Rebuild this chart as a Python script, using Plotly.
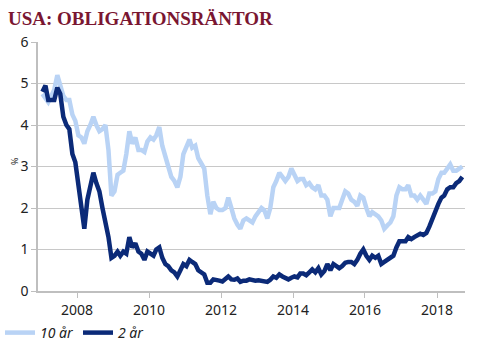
import pandas as pd
import plotly.graph_objects as go

# Monthly yields (%), Jan 2007 - Sep 2018
y10 = {
    2007: [4.75, 4.62, 4.55, 4.7, 4.85, 5.2, 4.95, 4.7, 4.6, 4.6, 4.25, 4.1],
    2008: [3.75, 3.7, 3.55, 3.85, 4.0, 4.2, 4.0, 3.85, 3.9, 4.0, 3.4, 2.3],
    2009: [2.4, 2.8, 2.85, 2.9, 3.3, 3.85, 3.55, 3.7, 3.4, 3.4, 3.35, 3.6],
    2010: [3.7, 3.65, 3.75, 3.95, 3.5, 3.2, 3.0, 2.75, 2.65, 2.5, 2.75, 3.3],
    2011: [3.45, 3.65, 3.45, 3.5, 3.2, 3.05, 2.95, 2.3, 1.85, 2.15, 2.0, 1.95],
    2012: [1.95, 2.0, 2.25, 2.0, 1.75, 1.6, 1.5, 1.7, 1.75, 1.7, 1.65, 1.8],
    2013: [1.9, 2.0, 1.95, 1.75, 2.0, 2.5, 2.65, 2.85, 2.75, 2.65, 2.75, 2.95],
    2014: [2.8, 2.65, 2.7, 2.7, 2.55, 2.6, 2.5, 2.45, 2.55, 2.3, 2.3, 2.2],
    2015: [1.8, 2.0, 2.0, 2.0, 2.2, 2.4, 2.35, 2.2, 2.15, 2.05, 2.3, 2.25],
    2016: [2.0, 1.8, 1.9, 1.85, 1.8, 1.7, 1.5, 1.58, 1.65, 1.8, 2.3, 2.5],
    2017: [2.45, 2.45, 2.55, 2.3, 2.3, 2.2, 2.3, 2.2, 2.1, 2.35, 2.35, 2.4],
    2018: [2.7, 2.85, 2.85, 2.95, 3.05, 2.9, 2.9, 2.95, 3.0],
}
y2 = {
    2007: [4.8, 4.95, 4.6, 4.6, 4.6, 4.9, 4.75, 4.2, 4.0, 3.9, 3.3, 3.1],
    2008: [2.6, 2.0, 1.5, 2.2, 2.5, 2.85, 2.6, 2.4, 2.0, 1.65, 1.3, 0.8],
    2009: [0.85, 0.95, 0.85, 0.95, 0.9, 1.3, 1.05, 1.15, 0.95, 0.9, 0.75, 0.95],
    2010: [0.9, 0.85, 1.0, 1.05, 0.8, 0.65, 0.6, 0.5, 0.45, 0.35, 0.5, 0.65],
    2011: [0.6, 0.75, 0.7, 0.65, 0.5, 0.45, 0.4, 0.2, 0.2, 0.28, 0.25, 0.25],
    2012: [0.23, 0.3, 0.35, 0.28, 0.27, 0.3, 0.22, 0.25, 0.25, 0.28, 0.26, 0.25],
    2013: [0.26, 0.25, 0.24, 0.22, 0.27, 0.35, 0.32, 0.4, 0.35, 0.3, 0.28, 0.32],
    2014: [0.35, 0.33, 0.42, 0.42, 0.38, 0.45, 0.52, 0.45, 0.55, 0.4, 0.48, 0.65],
    2015: [0.5, 0.65, 0.6, 0.55, 0.6, 0.68, 0.7, 0.7, 0.65, 0.75, 0.9, 1.0],
    2016: [0.85, 0.75, 0.85, 0.8, 0.85, 0.65, 0.7, 0.75, 0.78, 0.85, 1.05, 1.2],
    2017: [1.2, 1.2, 1.3, 1.25, 1.3, 1.35, 1.38, 1.35, 1.4, 1.55, 1.75, 1.9],
    2018: [2.1, 2.25, 2.3, 2.45, 2.5, 2.5, 2.6, 2.65, 2.75],
}
tick_years = [2008, 2010, 2012, 2014, 2016, 2018]
y_ticks = [0, 1, 2, 3, 4, 5, 6]

vals10 = [v for yr in sorted(y10) for v in y10[yr]]
vals2 = [v for yr in sorted(y2) for v in y2[yr]]
dates = pd.date_range("2007-01-01", periods=len(vals10), freq="MS") + pd.Timedelta(days=14)

LIGHT = "#B9D3F5"
DARK = "#0B2A78"
FONT = "Noto Sans"

fig = go.Figure()
fig.add_trace(go.Scatter(x=dates, y=vals10, mode="lines", name="10 år",
                         line=dict(color=LIGHT, width=4.5)))
fig.add_trace(go.Scatter(x=dates, y=vals2, mode="lines", name="2 år",
                         line=dict(color=DARK, width=4.5)))

fig.update_layout(
    width=488, height=357,
    margin=dict(l=38, r=23, t=42, b=66, autoexpand=False),
    paper_bgcolor="white", plot_bgcolor="white",
    font=dict(family=FONT, size=14, color="#222222"),
    title=dict(text="<b>USA: OBLIGATIONSRÄNTOR</b>", xref="container", x=8/488,
               xanchor="left", yref="container", y=1-18/357, yanchor="middle",
               font=dict(family="Liberation Serif", size=19, color="#7A1631")),
    showlegend=True,
    legend=dict(orientation="h", xref="container", x=-8/488, yref="container",
                y=1-333/357, yanchor="middle", xanchor="left",
                font=dict(family=FONT, size=14, color="#222222", style="italic"),
                itemwidth=30, tracegroupgap=0, bgcolor="rgba(0,0,0,0)"),
    xaxis=dict(range=["2006-12-01", "2018-10-12"], automargin=False,
               tickvals=[f"{y}-01-01" for y in tick_years],
               ticktext=[str(y) for y in tick_years],
               showgrid=False, showline=True, linecolor="#BFBFBF", linewidth=1.5,
               ticks="outside", ticklen=5, tickcolor="#BFBFBF", zeroline=False,
               tickfont=dict(size=14)),
    yaxis=dict(range=[0, 6], tickvals=y_ticks, showgrid=True, gridcolor="#C8C8C8",
               gridwidth=1, showline=True, linecolor="#BFBFBF", linewidth=1.5,
               ticks="outside", ticklen=5, tickcolor="#BFBFBF", zeroline=False,
               automargin=False, tickfont=dict(size=14)),
    annotations=[dict(text="%", xref="paper", yref="paper", x=-0.055, y=0.52,
                      xanchor="center", yanchor="middle", showarrow=False,
                      textangle=-90, font=dict(size=9, color="#222222"))],
)

fig.write_html("out.html", config={"displayModeBar": False},
               post_script="document.body.style.margin='0px';document.body.style.overflow='hidden';")
